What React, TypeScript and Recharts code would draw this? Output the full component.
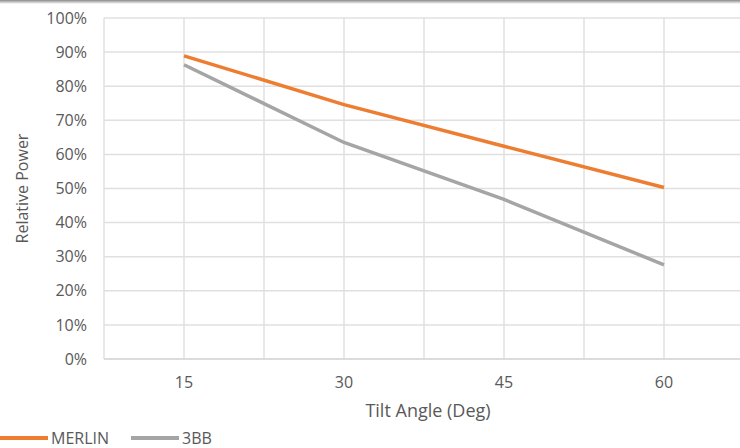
import React from 'react';
import { LineChart, Line, XAxis, YAxis, CartesianGrid, Legend } from 'recharts';

const angles = [15, 30, 45, 60];
const merlin = [0.889, 0.746, 0.624, 0.503];
const bb3 = [0.863, 0.635, 0.468, 0.276];
const yTicks = [0, 0.1, 0.2, 0.3, 0.4, 0.5, 0.6, 0.7, 0.8, 0.9, 1];
// vertical gridlines sit at every category centre and every boundary
const gridAngles = [7.5, 15, 22.5, 30, 37.5, 45, 52.5, 60, 67.5];
const seriesOrder = ['MERLIN', '3BB'];

const data = angles.map((a, i) => ({ angle: a, merlin: merlin[i], bb3: bb3[i] }));

const font = '"Open Sans", Lato, sans-serif';
const textColor = '#595959';

const LegendContent = (props: any) => {
  const items = [...(props.payload || [])].sort(
    (a: any, b: any) => seriesOrder.indexOf(a.value) - seriesOrder.indexOf(b.value)
  );
  return (
    <div style={{ display: 'flex', alignItems: 'center', height: 20, fontFamily: font, fontSize: 16, lineHeight: '20px', color: textColor }}>
      {items.map((it: any) => (
        <div key={it.value} style={{ display: 'flex', alignItems: 'center', marginRight: 22 }}>
          <div style={{ width: 48, height: 4, background: it.color, marginRight: 3 }} />
          <span>{it.value}</span>
        </div>
      ))}
    </div>
  );
};

const App: React.FC = () => {
  return (
    <div style={{ position: 'fixed', left: 0, top: 0, width: 740, height: 448, overflow: 'hidden', background: '#fff' }}>
      <div style={{ position: 'absolute', left: 0, top: 0, width: 740, height: 4, background: 'linear-gradient(#8a8a8a, #ffffff)' }} />
      <LineChart width={760} height={448} data={data} margin={{ top: 18, right: 16, left: 0, bottom: 19 }}>
        <CartesianGrid stroke="#e0e0e0" strokeWidth={1.5} />
        <XAxis
          dataKey="angle"
          type="number"
          domain={[7.5, 67.5]}
          ticks={gridAngles}
          interval={0}
          tickFormatter={(v: number) => (angles.includes(v) ? String(v) : '')}
          axisLine={{ stroke: '#d9d9d9', strokeWidth: 1.5 }}
          tickLine={false}
          height={50}
          tickMargin={12}
          tick={{ fill: textColor, fontSize: 16, fontFamily: font }}
          label={{ value: 'Tilt Angle (Deg)', position: 'center', dy: 27, dx: 4, fill: textColor, fontSize: 18, fontFamily: font }}
        />
        <YAxis
          domain={[0, 1]}
          ticks={yTicks}
          width={104}
          axisLine={false}
          tickLine={false}
          tickMargin={11}
          tickFormatter={(v: number) => `${Math.round(v * 100)}%`}
          tick={{ fill: textColor, fontSize: 16, fontFamily: font }}
          label={{ value: 'Relative Power', angle: -90, position: 'center', dx: -30, fill: textColor, fontSize: 16, fontFamily: font }}
        />
        <Legend
          verticalAlign="bottom"
          align="left"
          content={<LegendContent />}
          wrapperStyle={{ left: 0, bottom: 0, height: 20 }}
        />
        <Line dataKey="merlin" name="MERLIN" stroke="#ED7D31" strokeWidth={3.5} dot={false} isAnimationActive={false} />
        <Line dataKey="bb3" name="3BB" stroke="#A5A5A5" strokeWidth={3.5} dot={false} isAnimationActive={false} />
      </LineChart>
    </div>
  );
};

export default App;
